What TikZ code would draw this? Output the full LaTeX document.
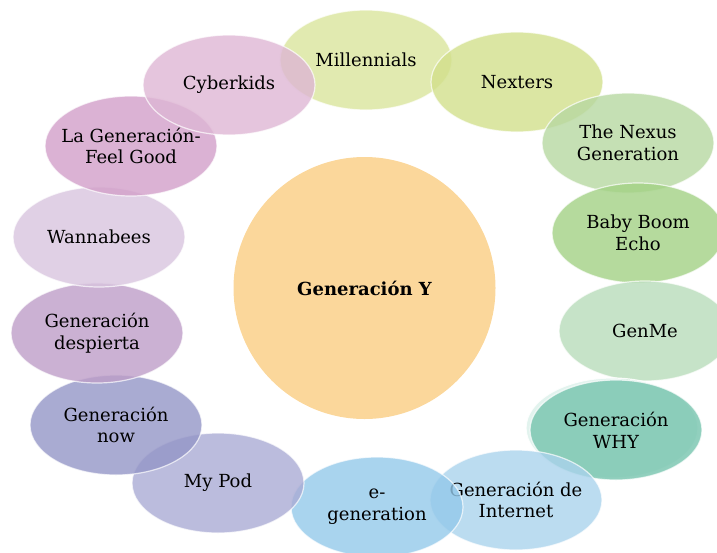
\documentclass[tikz,border=0pt]{standalone}
\usepackage{fontspec}
\setmainfont{DejaVu Serif}
\usetikzlibrary{shapes.geometric}

\definecolor{cY}{RGB}{251,215,155}
\definecolor{cMill}{RGB}{218,229,156}
\definecolor{cNext}{RGB}{210,224,140}
\definecolor{cNexus}{RGB}{183,216,161}
\definecolor{cBaby}{RGB}{162,209,132}
\definecolor{cGenMe}{RGB}{184,220,186}
\definecolor{cWhy}{RGB}{118,196,174}
\definecolor{cInt}{RGB}{170,211,236}
\definecolor{cEgen}{RGB}{148,201,234}
\definecolor{cPod}{RGB}{170,171,212}
\definecolor{cNow}{RGB}{148,150,199}
\definecolor{cDesp}{RGB}{190,158,200}
\definecolor{cWann}{RGB}{216,196,222}
\definecolor{cFeel}{RGB}{210,159,201}
\definecolor{cCyber}{RGB}{222,182,212}

\begin{document}
\begin{tikzpicture}[x=1pt,y=-1pt,
  gen node/.style={ellipse,draw=white,draw opacity=0.7,line width=1.2pt,fill opacity=0.8,text opacity=1,
    minimum width=172pt,minimum height=100pt,inner sep=0pt,inner xsep=-25pt,align=center,
    font=\fontsize{18}{21.7}\selectfont,text=black}]

                \useasboundingbox (0,0) rectangle (717,552);
                \clip (0,0) rectangle (717,552);

                \node[circle, fill=cY, minimum size=262pt, inner sep=0pt, font=\bfseries\fontsize{18}{21}\selectfont] (gy) at (364.5,288) {Generación Y};

                \node[gen node, fill=cMill] (mill) at (366,60) {Millennials};
                \node[gen node, fill=cNext] (next) at (517,82) {Nexters};
                \node[gen node, fill=cNexus] (nexus) at (628,143) {The Nexus\\Generation};
                \node[gen node, fill=cBaby] (baby) at (638,233) {Baby Boom\\Echo};
                \node[gen node, fill=cGenMe] (genme) at (645,331) {GenMe};
                % second rim behind WHY
                \node[gen node, fill=cWhy!60, fill opacity=0.35, draw opacity=0.9] (why2) at (612,428) {};
                \node[gen node, fill=cWhy] (why) at (616,430) {Generación\\WHY};
                \node[gen node, fill=cInt] (inet) at (516,500) {Generación de\\Internet};
                \node[gen node, fill=cEgen] (egen) at (377,507) {e-\\generation};
                \node[gen node, fill=cPod] (pod) at (218,483) {My Pod};
                \node[gen node, fill=cNow] (now) at (116,425) {Generación\\now};
                \node[gen node, fill=cDesp] (desp) at (97,333) {Generación\\despierta};
                \node[gen node, fill=cWann] (wann) at (99,237) {Wannabees};
                \node[gen node, fill=cFeel] (feel) at (131,146) {La Generación-\\Feel Good};
                \node[gen node, fill=cCyber] (cyber) at (229,85) {Cyberkids};

            \end{tikzpicture}
\end{document}
